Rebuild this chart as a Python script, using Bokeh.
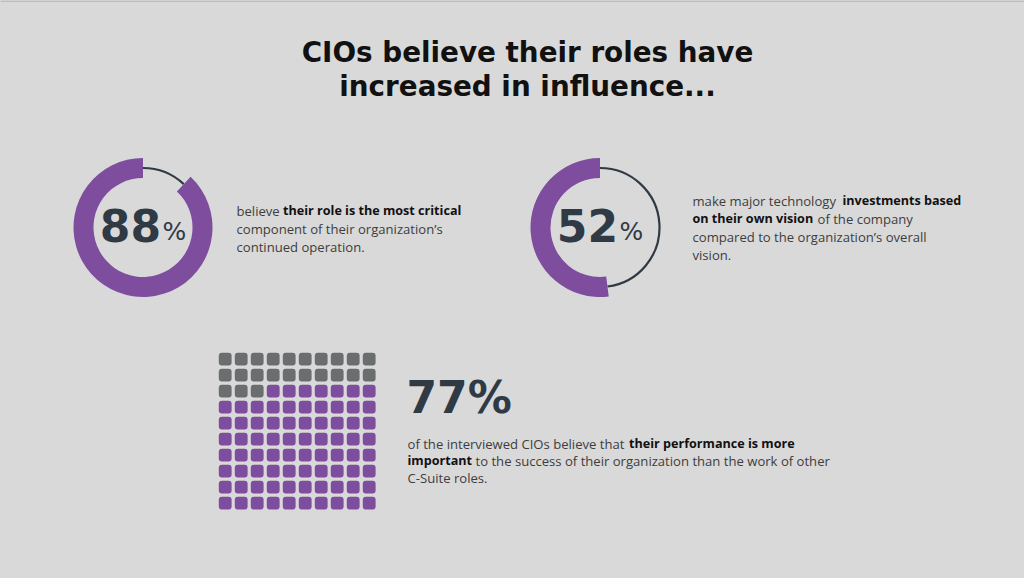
import math, re
from bokeh.plotting import figure
from bokeh.models import Range1d
from bokeh.core.properties import value
from bokeh.embed import file_html
from bokeh.resources import INLINE

# ---------------- data ----------------
TITLE_LINES = ["CIOs believe their roles have", "increased in influence..."]
DONUT_VALUES = [88, 52]
DONUT_NUMBERS = ["88", "52"]
WAFFLE_VALUE = 77
WAFFLE_NUMBER = "77%"
WAFFLE_ROWS = 10
WAFFLE_COLS = 10

BLOCK1 = [
    [("believe", False), ("their role is the most critical", True)],
    [("component of their organization’s", False)],
    [("continued operation.", False)],
]
BLOCK2 = [
    [("make major technology", False), ("investments based", True)],
    [("on their own vision", True), ("of the company", False)],
    [("compared to the organization’s overall", False)],
    [("vision.", False)],
]
BLOCK3 = [
    [("of the interviewed CIOs believe that", False), ("their performance is more", True)],
    [("important", True), ("to the success of their organization than the work of other", False)],
    [("C-Suite roles.", False)],
]

# ---------------- style / layout ----------------
BG = "#d9d9d9"
PURPLE = "#7e4d9e"
GREY_CELL = "#6b6e6f"
DARK = "#2f3a45"
TEXT_REG = "#3d3d3d"
TEXT_BOLD = "#111111"
H = 578
W = 1024

def Y(py):
    return H - py

p = figure(width=W, height=H, output_backend="svg", toolbar_location=None,
           x_range=Range1d(0, W), y_range=Range1d(0, H),
           min_border=0, background_fill_color=BG, border_fill_color=BG)
p.axis.visible = False
p.grid.visible = False
p.outline_line_color = None

# thin darker strip at the very top of the page
p.quad(left=[0], right=[W], top=[Y(0)], bottom=[Y(1.5)], fill_color="#bdbdbd", line_color=None)

# title
TITLE_Y = [52, 86]
for line, ty in zip(TITLE_LINES, TITLE_Y):
    p.text(x=[527], y=[Y(ty)], text=[line], text_align="center", text_baseline="middle",
           text_font=value("DejaVu Sans"), text_font_style="bold", text_font_size="27.8px",
           text_color=TEXT_BOLD)

# donuts
DONUT_CX = [142.5, 599.5]
DONUT_CY = 227
R_OUT, R_IN, R_MID = 69.5, 49.5, 59.5
for v, num, cx in zip(DONUT_VALUES, DONUT_NUMBERS, DONUT_CX):
    end = math.radians(90 + v * 3.6)
    p.arc(x=[cx], y=[Y(DONUT_CY)], radius=R_MID, start_angle=end, end_angle=math.radians(90 + 360),
          direction="anticlock", line_color=DARK, line_width=2.2)
    p.annular_wedge(x=[cx], y=[Y(DONUT_CY)], inner_radius=R_IN, outer_radius=R_OUT,
                    start_angle=math.radians(90), end_angle=end, direction="anticlock",
                    fill_color=PURPLE, line_color=None)
    p.text(x=[cx + 18], y=[Y(224.5)], text=[num], text_align="right", text_baseline="middle",
           text_font=value("DejaVu Sans"), text_font_style="bold", text_font_size="44px",
           text_color=DARK)
    p.text(x=[cx + 19.5], y=[Y(231)], text=["%"], text_align="left", text_baseline="middle",
           text_font=value("DejaVu Sans"), text_font_size="25px", text_color=DARK)

def draw_block(lines, x0, ys, seg_x):
    for li, (line, ly) in enumerate(zip(lines, ys)):
        for si, (seg, bold) in enumerate(line):
            sx = seg_x.get((li, si), x0)
            p.text(x=[sx], y=[Y(ly)], text=[seg], text_align="left", text_baseline="middle",
                   text_font=value("Open Sans"), text_font_style="bold" if bold else "normal",
                   text_font_size="13.1px" if not bold else "12.6px",
                   text_color=TEXT_BOLD if bold else TEXT_REG)

draw_block(BLOCK1, 236, [210, 228, 246], {(0, 1): 282.5})
draw_block(BLOCK2, 692, [200, 218, 236, 254], {(0, 1): 842, (1, 1): 817})
draw_block(BLOCK3, 407, [443, 460, 477], {(0, 1): 628.5, (1, 1): 475})

# waffle
WX0, WY0, PITCH, CELL = 218.3, 352.3, 16.0, 12.8
left, right, top, bottom, colors = [], [], [], [], []
n_grey = WAFFLE_ROWS * WAFFLE_COLS - WAFFLE_VALUE
for r in range(WAFFLE_ROWS):
    for c in range(WAFFLE_COLS):
        idx = r * WAFFLE_COLS + c
        left.append(WX0 + c * PITCH)
        right.append(WX0 + c * PITCH + CELL)
        top.append(Y(WY0 + r * PITCH))
        bottom.append(Y(WY0 + r * PITCH + CELL))
        colors.append(GREY_CELL if idx < n_grey else PURPLE)
p.quad(left=left, right=right, top=top, bottom=bottom, fill_color=colors, line_color=None,
       border_radius=3)

p.text(x=[406], y=[Y(397)], text=[WAFFLE_NUMBER], text_align="left", text_baseline="middle",
       text_font=value("DejaVu Sans"), text_font_style="bold", text_font_size="44px",
       text_color=DARK)

html = file_html(p, INLINE)
html = re.sub(r"<body>", '<body style="margin:0;background-color:#d9d9d9;">', html, count=1)
html = re.sub(r"<html([^>]*)>", r'<html\1 style="background-color:#d9d9d9;">', html, count=1)
open("out.html", "w").write(html)
